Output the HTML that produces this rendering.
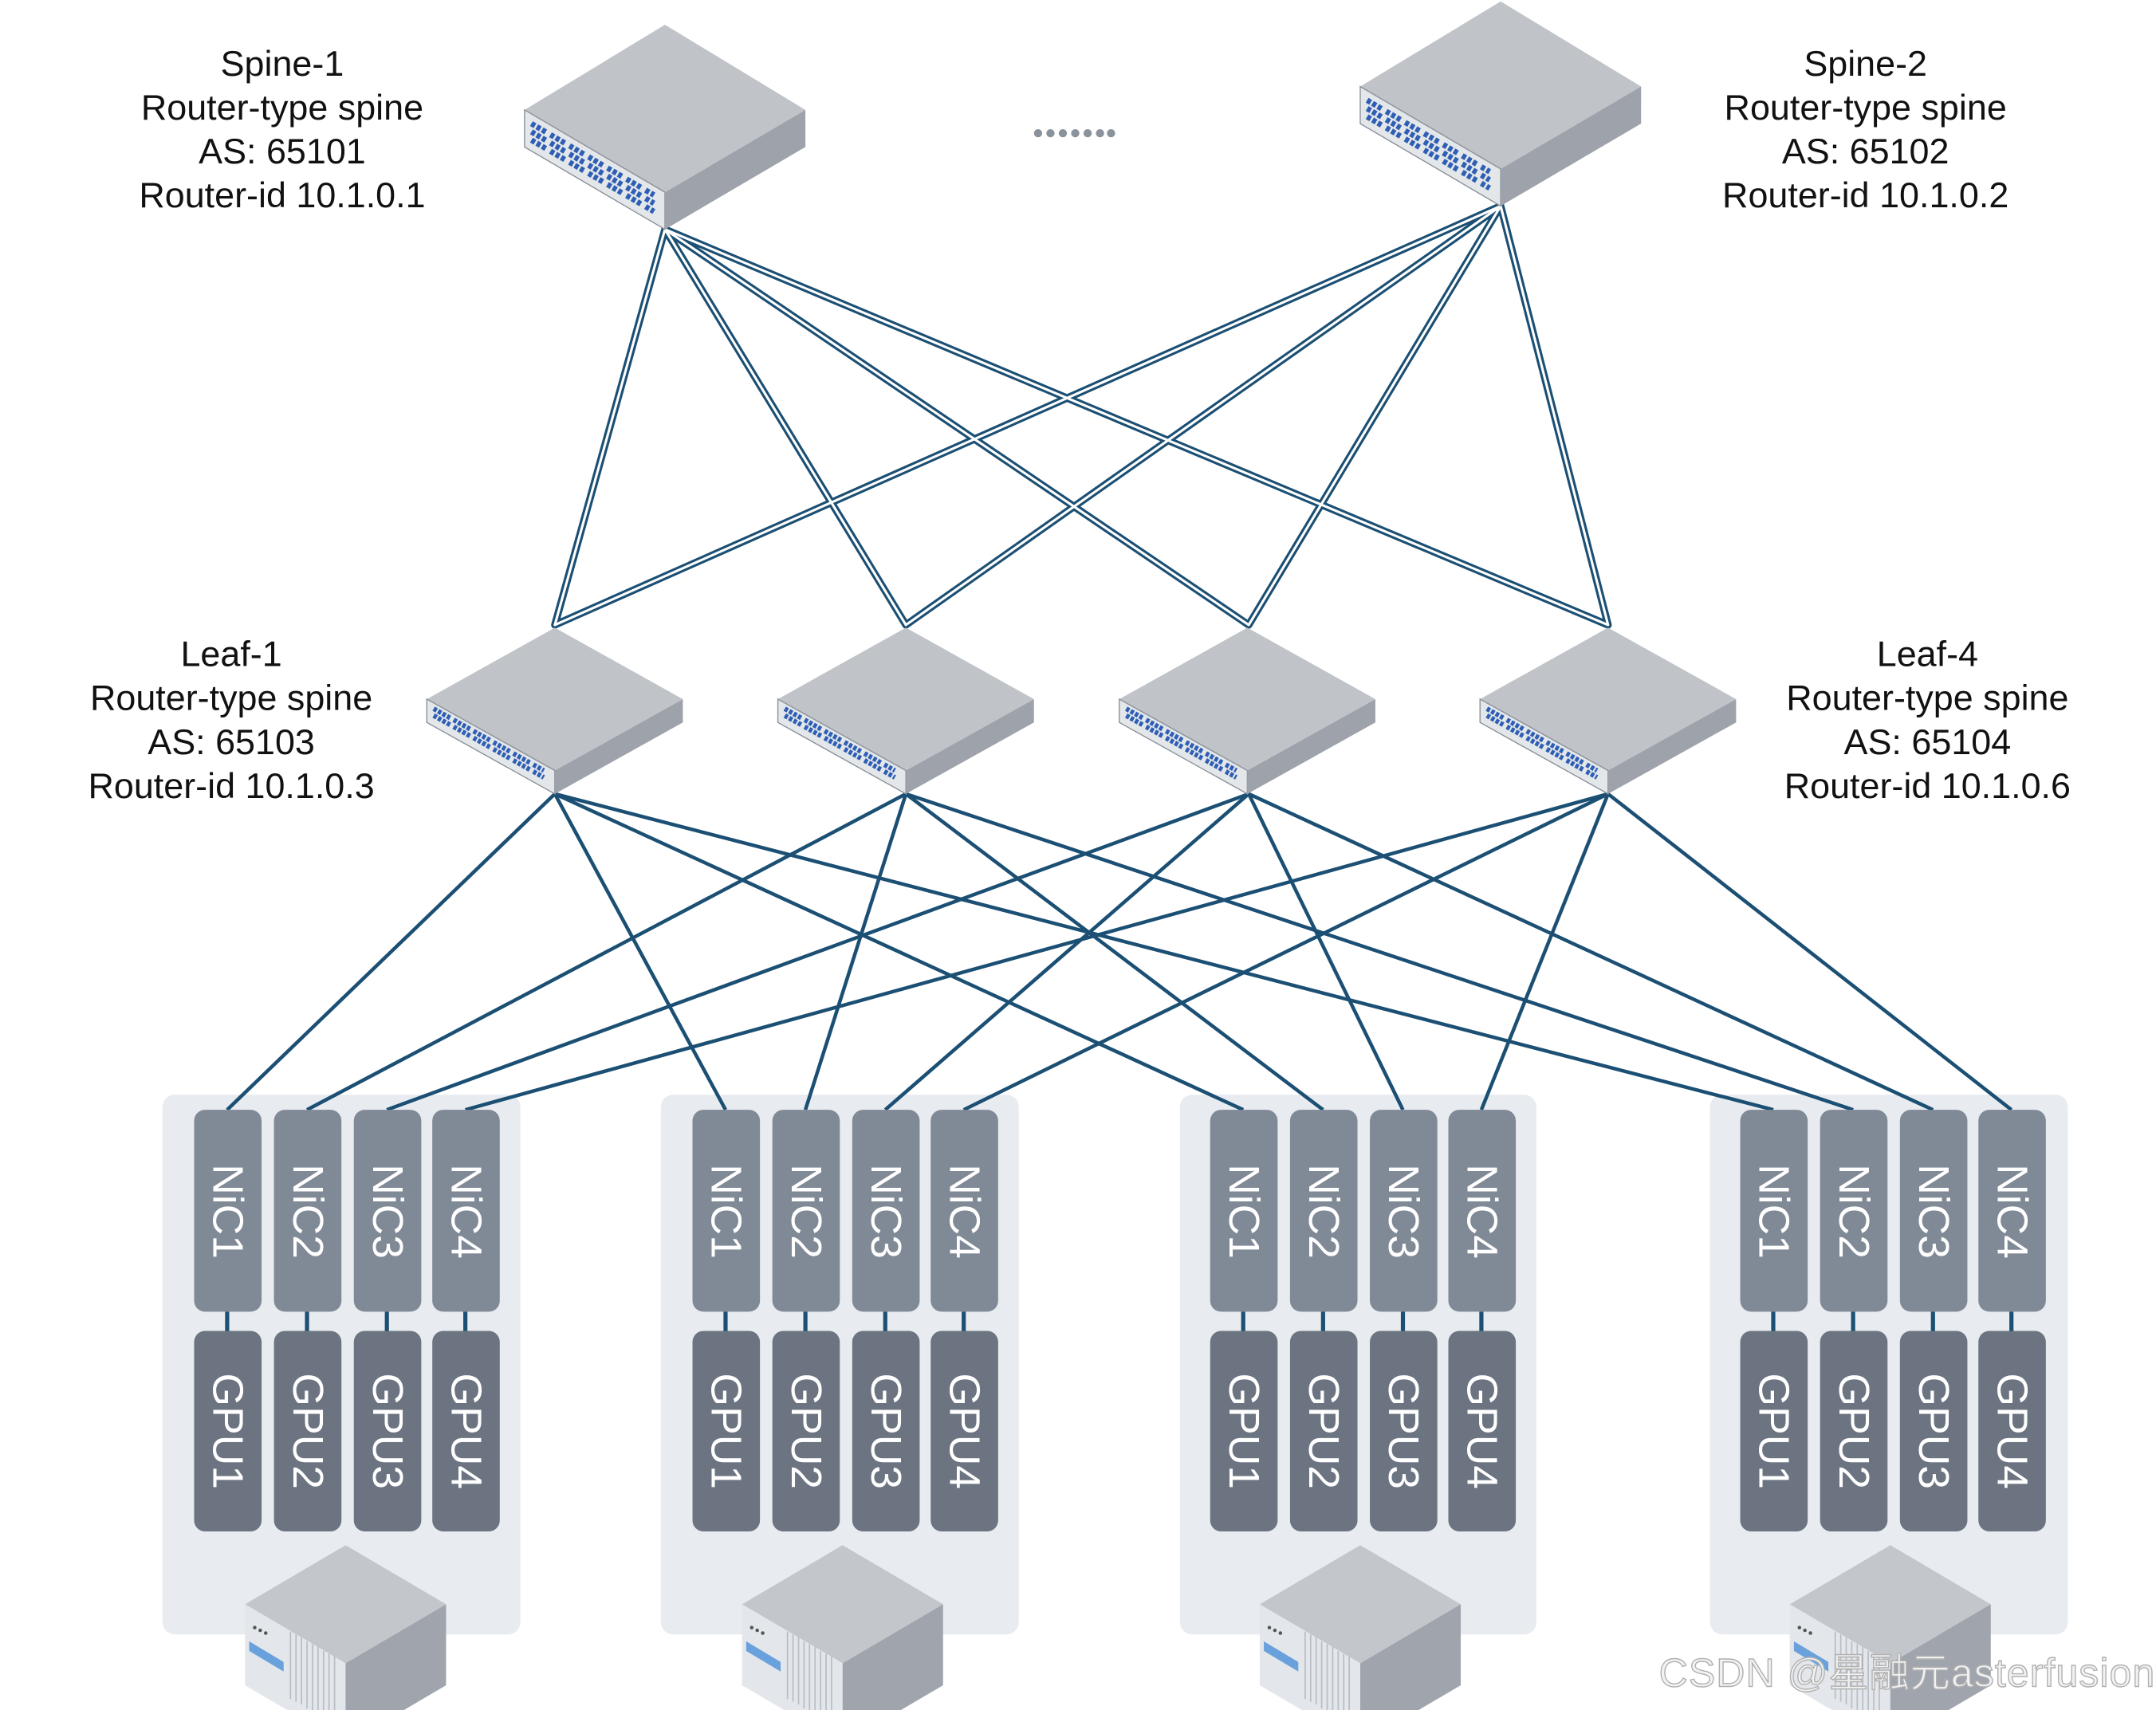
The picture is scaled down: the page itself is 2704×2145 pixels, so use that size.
<!DOCTYPE html>
<html><head><meta charset="utf-8"><style>
html,body{margin:0;padding:0;background:#fff;}
svg{display:block;}
text{font-family:"Liberation Sans","Noto Sans CJK SC",sans-serif;}
</style></head><body>
<svg width="2704" height="2145" viewBox="0 0 1566 1245" preserveAspectRatio="none" xmlns="http://www.w3.org/2000/svg">
<defs>
<g id="sw">
 <polygon points="0,0 102,62 0,122 -102,62" fill="#c0c4c9"/>
 <polygon points="-102,62 0,122 0,149 -102,89" fill="#e4e7ea" stroke="#8a9099" stroke-width="0.8"/>
 <polygon points="0,122 102,62 102,89 0,149" fill="#9ea3ab"/>
 <path d="M-97,72 L-8,124 M-97,78 L-8,130 M-97,84 L-8,136" stroke="#2f5fb5" stroke-width="4" stroke-dasharray="3,1.5,3,1.5,3,4"/>
</g>
<g id="lf">
 <polygon points="0,0 93,52 0,104 -93,52" fill="#c0c4c9"/>
 <polygon points="-93,52 0,104 0,121 -93,69" fill="#e4e7ea" stroke="#8a9099" stroke-width="0.8"/>
 <polygon points="0,104 93,52 93,69 0,121" fill="#9ea3ab"/>
 <path d="M-88,59 L-8,104 M-88,64 L-8,109" stroke="#2f5fb5" stroke-width="3.5" stroke-dasharray="2.5,1.2,2.5,1.2,2.5,1.2,2.5,3"/>
</g>
<g id="srv">
 <polygon points="0,0 73,43 0,86 -73,43" fill="#c3c7cc"/>
 <polygon points="-73,43 0,86 0,145 -73,102" fill="#e3e6ea"/>
 <polygon points="0,86 73,43 73,102 0,145" fill="#a0a5ad"/>
 <path d="M-40,63 L-40,112 M-36,65 L-36,114 M-32,67 L-32,116 M-28,70 L-28,119 M-24,72 L-24,121 M-20,74 L-20,123 M-16,77 L-16,126 M-12,79 L-12,128 M-8,81 L-8,130" stroke="#b9bec5" stroke-width="1"/>
 <polygon points="-70,70 -45,85 -45,92 -70,77" fill="#4a90d8" opacity="0.8"/>
 <circle cx="-66" cy="60" r="1.3" fill="#555"/><circle cx="-62" cy="62" r="1.3" fill="#555"/><circle cx="-58" cy="64" r="1.3" fill="#555"/>
</g>
</defs>

<g fill="none" stroke-linecap="round">
 <g stroke="#1b4f73" stroke-width="5.4">
  <path d="M483,167 L403,455 M483,167 L658,455 M483,167 L907,455 M483,167 L1168,455 M1090,150 L403,455 M1090,150 L658,455 M1090,150 L907,455 M1090,150 L1168,455"/>
 </g>
 <g stroke="#ffffff" stroke-width="1.8">
  <path d="M483,167 L403,455 M483,167 L658,455 M483,167 L907,455 M483,167 L1168,455 M1090,150 L403,455 M1090,150 L658,455 M1090,150 L907,455 M1090,150 L1168,455"/>
 </g>
</g>

<g fill="#e8ebef">
 <rect x="118" y="797" width="260" height="393" rx="9"/>
 <rect x="480" y="797" width="260" height="393" rx="9"/>
 <rect x="857" y="797" width="259" height="393" rx="9"/>
 <rect x="1242" y="797" width="260" height="393" rx="9"/>
</g>

<g stroke="#1b4f73" stroke-width="2.6" fill="none">
 <path d="M403,578 L165,808 M403,578 L527,808 M403,578 L903,808 M403,578 L1288,808"/>
 <path d="M658,578 L223,808 M658,578 L585,808 M658,578 L961,808 M658,578 L1346,808"/>
 <path d="M907,578 L281,808 M907,578 L643,808 M907,578 L1019,808 M907,578 L1404,808"/>
 <path d="M1168,578 L338,808 M1168,578 L700,808 M1168,578 L1076,808 M1168,578 L1461,808"/>
</g>

<use href="#sw" x="483" y="18"/>
<use href="#sw" x="1090" y="1"/>
<use href="#lf" x="403" y="457"/>
<use href="#lf" x="658" y="457"/>
<use href="#lf" x="906" y="457"/>
<use href="#lf" x="1168" y="457"/>

<g>
 <g fill="#808996">
  <rect x="141" y="808" width="49" height="147" rx="8"/><rect x="199" y="808" width="49" height="147" rx="8"/><rect x="257" y="808" width="49" height="147" rx="8"/><rect x="314" y="808" width="49" height="147" rx="8"/>
  <rect x="503" y="808" width="49" height="147" rx="8"/><rect x="561" y="808" width="49" height="147" rx="8"/><rect x="619" y="808" width="49" height="147" rx="8"/><rect x="676" y="808" width="49" height="147" rx="8"/>
  <rect x="879" y="808" width="49" height="147" rx="8"/><rect x="937" y="808" width="49" height="147" rx="8"/><rect x="995" y="808" width="49" height="147" rx="8"/><rect x="1052" y="808" width="49" height="147" rx="8"/>
  <rect x="1264" y="808" width="49" height="147" rx="8"/><rect x="1322" y="808" width="49" height="147" rx="8"/><rect x="1380" y="808" width="49" height="147" rx="8"/><rect x="1437" y="808" width="49" height="147" rx="8"/>
 </g>
 <g fill="#6b7480">
  <rect x="141" y="969" width="49" height="146" rx="8"/><rect x="199" y="969" width="49" height="146" rx="8"/><rect x="257" y="969" width="49" height="146" rx="8"/><rect x="314" y="969" width="49" height="146" rx="8"/>
  <rect x="503" y="969" width="49" height="146" rx="8"/><rect x="561" y="969" width="49" height="146" rx="8"/><rect x="619" y="969" width="49" height="146" rx="8"/><rect x="676" y="969" width="49" height="146" rx="8"/>
  <rect x="879" y="969" width="49" height="146" rx="8"/><rect x="937" y="969" width="49" height="146" rx="8"/><rect x="995" y="969" width="49" height="146" rx="8"/><rect x="1052" y="969" width="49" height="146" rx="8"/>
  <rect x="1264" y="969" width="49" height="146" rx="8"/><rect x="1322" y="969" width="49" height="146" rx="8"/><rect x="1380" y="969" width="49" height="146" rx="8"/><rect x="1437" y="969" width="49" height="146" rx="8"/>
 </g>
 <g fill="#fff" font-size="31" text-anchor="middle">
  <text transform="translate(155,882) rotate(90)">NiC1</text><text transform="translate(213,882) rotate(90)">NiC2</text><text transform="translate(271,882) rotate(90)">NiC3</text><text transform="translate(328,882) rotate(90)">NiC4</text>
  <text transform="translate(517,882) rotate(90)">NiC1</text><text transform="translate(575,882) rotate(90)">NiC2</text><text transform="translate(633,882) rotate(90)">NiC3</text><text transform="translate(690,882) rotate(90)">NiC4</text>
  <text transform="translate(893,882) rotate(90)">NiC1</text><text transform="translate(951,882) rotate(90)">NiC2</text><text transform="translate(1009,882) rotate(90)">NiC3</text><text transform="translate(1066,882) rotate(90)">NiC4</text>
  <text transform="translate(1278,882) rotate(90)">NiC1</text><text transform="translate(1336,882) rotate(90)">NiC2</text><text transform="translate(1394,882) rotate(90)">NiC3</text><text transform="translate(1451,882) rotate(90)">NiC4</text>
  <text transform="translate(155,1042) rotate(90)">GPU1</text><text transform="translate(213,1042) rotate(90)">GPU2</text><text transform="translate(271,1042) rotate(90)">GPU3</text><text transform="translate(328,1042) rotate(90)">GPU4</text>
  <text transform="translate(517,1042) rotate(90)">GPU1</text><text transform="translate(575,1042) rotate(90)">GPU2</text><text transform="translate(633,1042) rotate(90)">GPU3</text><text transform="translate(690,1042) rotate(90)">GPU4</text>
  <text transform="translate(893,1042) rotate(90)">GPU1</text><text transform="translate(951,1042) rotate(90)">GPU2</text><text transform="translate(1009,1042) rotate(90)">GPU3</text><text transform="translate(1066,1042) rotate(90)">GPU4</text>
  <text transform="translate(1278,1042) rotate(90)">GPU1</text><text transform="translate(1336,1042) rotate(90)">GPU2</text><text transform="translate(1394,1042) rotate(90)">GPU3</text><text transform="translate(1451,1042) rotate(90)">GPU4</text>
 </g>
 <g stroke="#1b4f73" stroke-width="3">
  <path d="M165,955 V969 M223,955 V969 M281,955 V969 M338,955 V969 M527,955 V969 M585,955 V969 M643,955 V969 M700,955 V969 M903,955 V969 M961,955 V969 M1019,955 V969 M1076,955 V969 M1288,955 V969 M1346,955 V969 M1404,955 V969 M1461,955 V969"/>
 </g>
</g>

<use href="#srv" x="251" y="1125"/>
<use href="#srv" x="612" y="1125"/>
<use href="#srv" x="988" y="1125"/>
<use href="#srv" x="1373" y="1125"/>

<g font-size="26" fill="#111" text-anchor="middle">
 <text x="205" y="55">Spine-1</text><text x="205" y="87">Router-type spine</text><text x="205" y="119">AS:  65101</text><text x="205" y="151">Router-id 10.1.0.1</text>
 <text x="1355" y="55">Spine-2</text><text x="1355" y="87">Router-type spine</text><text x="1355" y="119">AS:  65102</text><text x="1355" y="151">Router-id 10.1.0.2</text>
 <text x="168" y="485">Leaf-1</text><text x="168" y="517">Router-type spine</text><text x="168" y="549">AS:  65103</text><text x="168" y="581">Router-id 10.1.0.3</text>
 <text x="1400" y="485">Leaf-4</text><text x="1400" y="517">Router-type spine</text><text x="1400" y="549">AS:  65104</text><text x="1400" y="581">Router-id 10.1.0.6</text>
</g>
<g fill="#8a929c">
 <circle cx="754" cy="97" r="3"/><circle cx="763" cy="97" r="3"/><circle cx="772" cy="97" r="3"/><circle cx="781" cy="97" r="3"/><circle cx="790" cy="97" r="3"/><circle cx="799" cy="97" r="3"/><circle cx="807" cy="97" r="3"/>
</g>
<text x="1205" y="1228" font-size="29" fill="#f2f2f2" stroke="#b0b0b0" stroke-width="0.8" textLength="360">CSDN @星融元asterfusion</text>
</svg>
</body></html>
